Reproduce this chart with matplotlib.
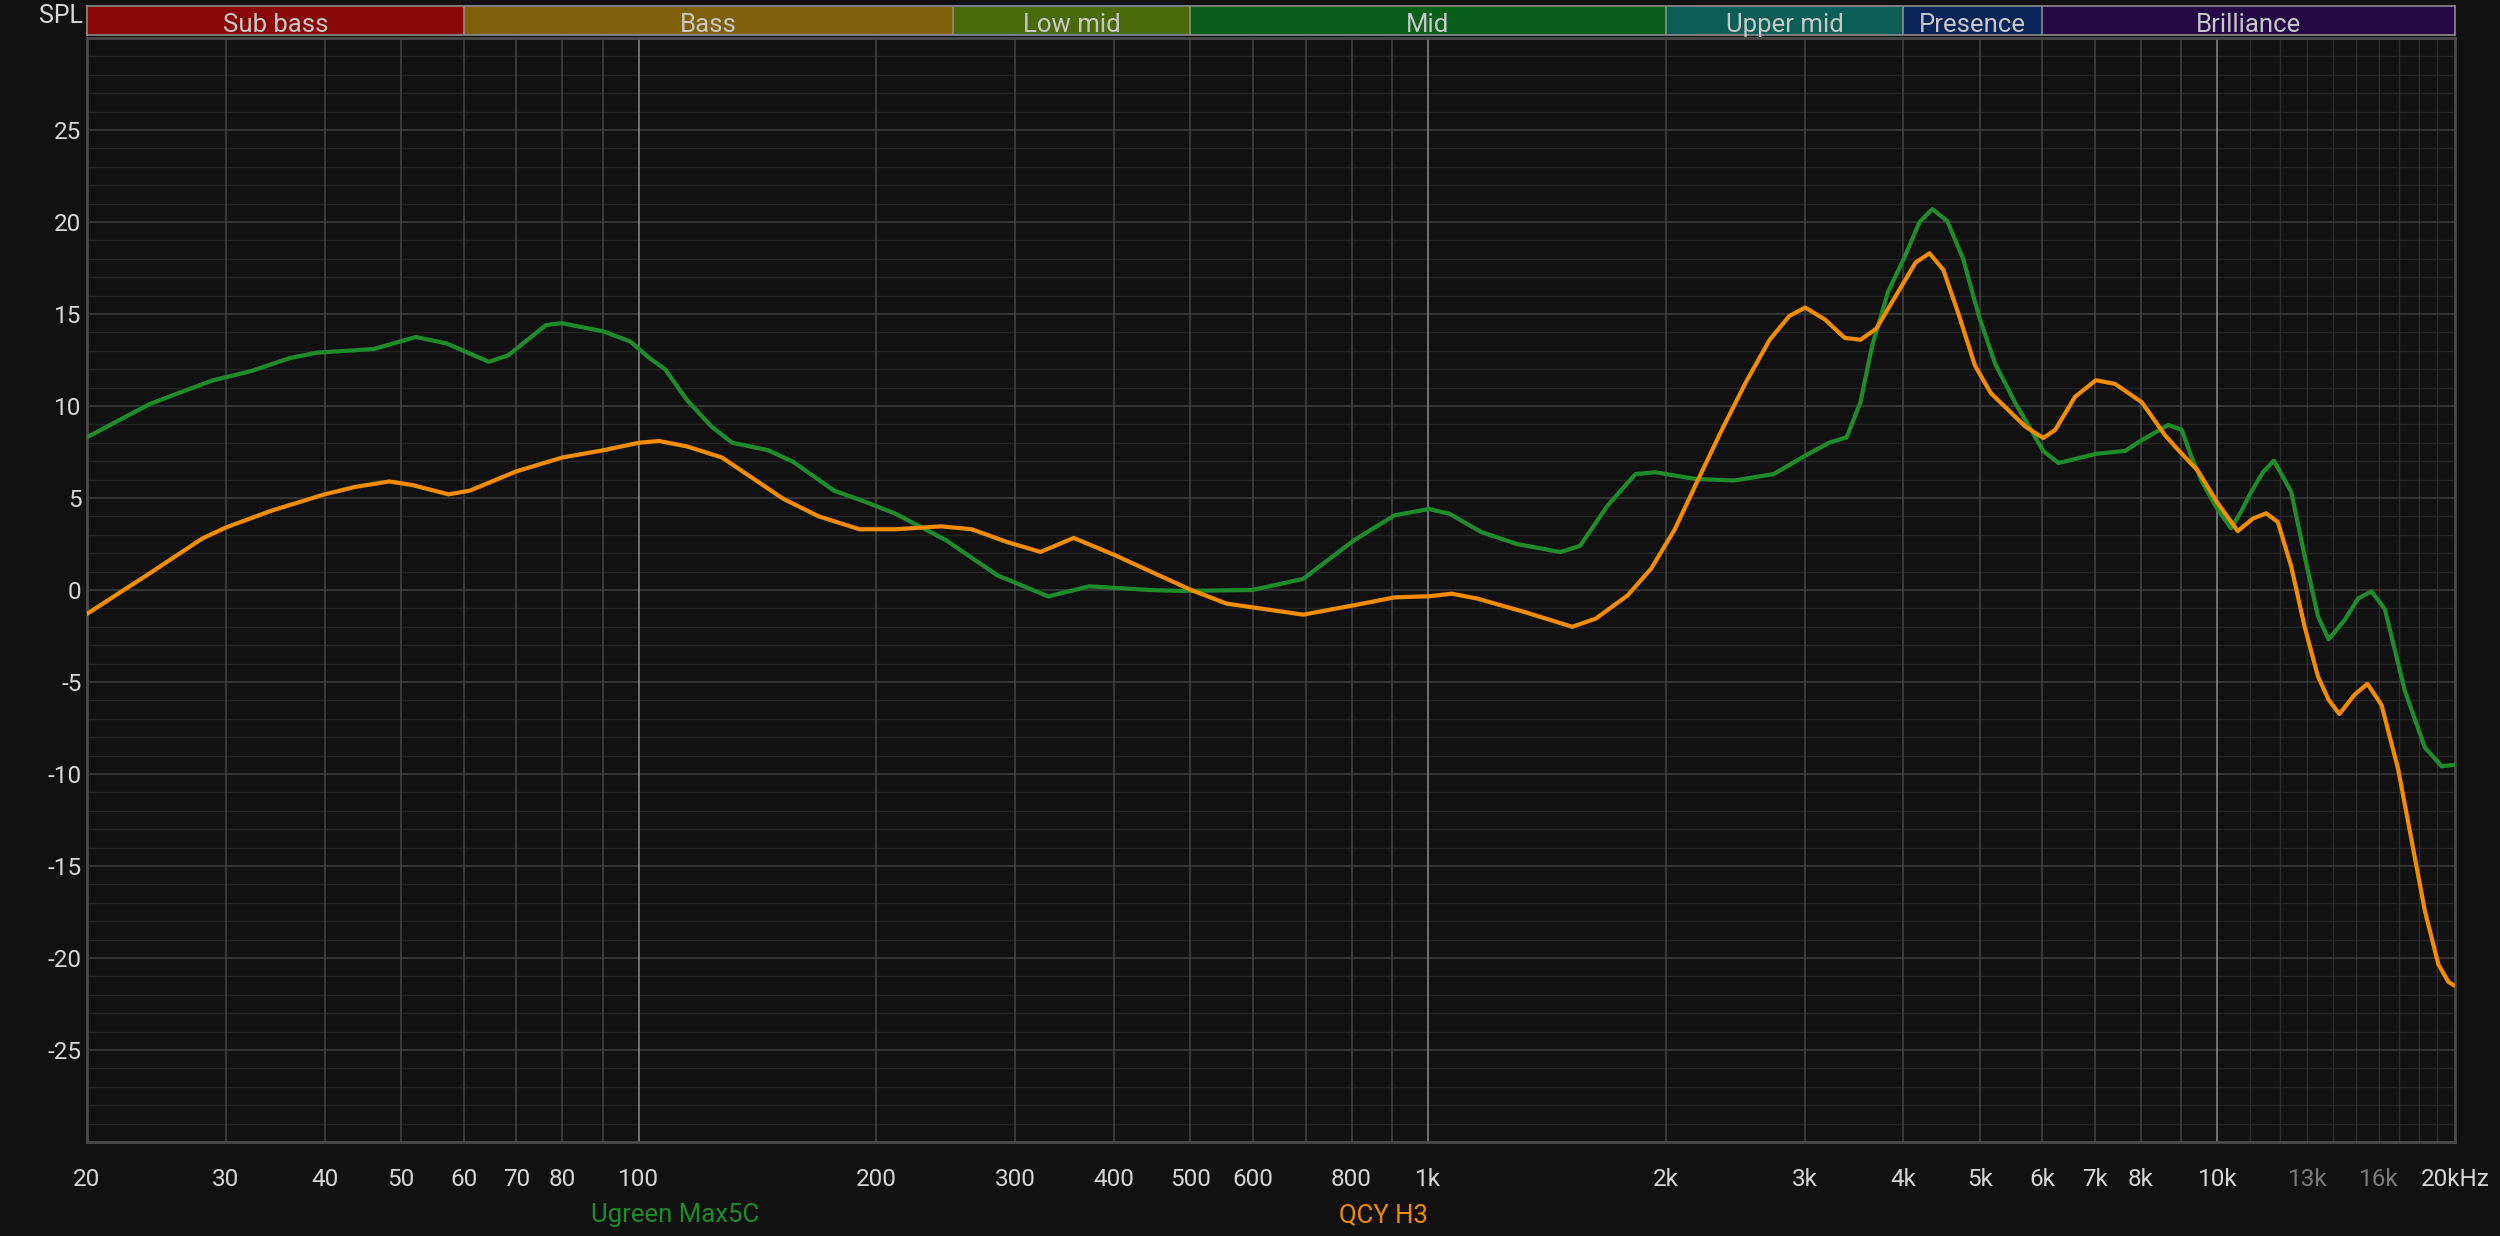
import matplotlib
matplotlib.use("Agg")
import matplotlib.pyplot as plt
from matplotlib.ticker import NullLocator

# ---------------- data ----------------
green_freq = [20, 21.9, 24.0, 26.1, 28.9, 32.3, 36.1, 39.1, 42.7, 46.2, 52.2, 57.1, 64.6, 68.3,
              76.3, 79.9, 90.3, 97.6, 103.2, 108.0, 115.2, 123.8, 131.4, 145.8, 157.0, 176.8,
              193.4, 211.4, 245.2, 284.6, 330.2, 372.0, 444.6, 486.3, 598.8, 694.4, 805.6,
              906.9, 1003, 1065, 1168, 1296, 1471, 1558, 1689, 1831, 1940, 2176, 2442, 2740,
              3005, 3220, 3391, 3530, 3654, 3826, 4006, 4195, 4353, 4548, 4763, 4987, 5229,
              5541, 6016, 6291, 7014, 7642, 8023, 8670, 9015, 9259, 9555, 10000, 10408, 10720,
              11035, 11420, 11792, 12405, 12898, 13410, 13836, 14500, 15075, 15677, 16299,
              17278, 18320, 19240, 19967]
green_db = [8.3, 9.2, 10.1, 10.7, 11.4, 11.9, 12.6, 12.9, 13.0, 13.1, 13.75, 13.4, 12.4, 12.75,
            14.4, 14.5, 14.05, 13.5, 12.6, 12.0, 10.3, 8.86, 8.0, 7.6, 6.96, 5.4,
            4.8, 4.15, 2.7, 0.8, -0.35, 0.2, 0.0, -0.05, 0.0, 0.6, 2.7,
            4.06, 4.4, 4.14, 3.15, 2.5, 2.06, 2.4, 4.6, 6.3, 6.4, 6.04, 5.95, 6.3,
            7.3, 8.0, 8.3, 10.2, 13.3, 16.2, 18.0, 20.0, 20.7, 20.05, 18.0, 14.9, 12.3,
            10.2, 7.56, 6.9, 7.4, 7.56, 8.15, 8.97, 8.7, 7.3, 5.9, 4.4, 3.36, 4.27,
            5.33, 6.4, 7.03, 5.33, 1.85, -1.43, -2.68, -1.62, -0.46, -0.08, -1.04,
            -5.48, -8.57, -9.58, -9.5]

orange_freq = [20, 21.9, 24.0, 28.0, 30, 34.2, 40, 43.7, 48.3, 51.7, 57.4, 61.1, 70, 80, 90.3,
               100, 106.1, 115.2, 127.5, 152.4, 169.1, 190.5, 211.4, 241.6, 264.2, 293.2,
               322.9, 355.7, 400.7, 501, 555.6, 694.4, 805.6, 906.9, 1003, 1072, 1155, 1326,
               1523, 1632, 1789, 1917, 2054, 2201, 2359, 2528, 2709, 2870, 3005, 3183, 3372,
               3530, 3697, 3915, 4147, 4318, 4496, 4708, 4930, 5163, 5705, 6016, 6230, 6602,
               7014, 7421, 8023, 8587, 8906, 9441, 10000, 10613, 11089, 11530, 11931, 12405,
               12898, 13410, 13836, 14274, 14928, 15494, 16142, 16943, 17620, 18320, 19053,
               19620, 19967]
orange_db = [-1.3, -0.2, 0.9, 2.8, 3.4, 4.3, 5.2, 5.6, 5.9, 5.7, 5.2, 5.4, 6.45, 7.2, 7.6,
             8.0, 8.1, 7.8, 7.2, 4.96, 4.0, 3.3, 3.3, 3.46, 3.3, 2.6,
             2.07, 2.83, 1.9, 0.0, -0.74, -1.34, -0.83, -0.4, -0.34, -0.2, -0.47, -1.2,
             -2.0, -1.55, -0.3, 1.16, 3.3, 6.04, 8.75, 11.3, 13.6, 14.9, 15.35, 14.7, 13.7,
             13.6, 14.2, 16.0, 17.8, 18.3, 17.4, 14.9, 12.2, 10.7, 8.9, 8.26, 8.7, 10.5,
             11.4, 11.2, 10.2, 8.4, 7.64, 6.5, 4.75, 3.2, 3.88, 4.17, 3.69, 1.27,
             -2.0, -4.7, -5.97, -6.74, -5.68, -5.1, -6.25, -9.73, -13.6, -17.45, -20.35,
             -21.3, -21.5]

series_names = ["Ugreen Max5C", "QCY H3"]
series_colors = ["#1f8c2b", "#f28c00"]

band_names = ["Sub bass", "Bass", "Low mid", "Mid", "Upper mid", "Presence", "Brilliance"]
band_edges = [20, 60, 250, 500, 2000, 4000, 6000, 20000]
band_colors = ["#880808", "#7f600a", "#4a690b", "#0a5f1a", "#0a5e55", "#0a2457", "#240a45"]

x_ticks = [20, 30, 40, 50, 60, 70, 80, 100, 200, 300, 400, 500, 600, 800, 1000, 2000, 3000,
           4000, 5000, 6000, 7000, 8000, 10000, 13000, 16000, 20000]
x_labels = ["20", "30", "40", "50", "60", "70", "80", "100", "200", "300", "400", "500", "600",
            "800", "1k", "2k", "3k", "4k", "5k", "6k", "7k", "8k", "10k", "13k", "16k", "20kHz"]
dim_labels = ["13k", "16k"]
y_ticks = [-25, -20, -15, -10, -5, 0, 5, 10, 15, 20, 25]

# ---------------- style ----------------
BG = "#111111"
TXT = "#d6d6d6"
FONT = ["Roboto", "DejaVu Sans"]
plt.rcParams["font.family"] = FONT

W, H = 2500, 1236
fig = plt.figure(figsize=(25, 12.36), dpi=100, facecolor=BG)

left, right, top, bottom = 87, 2455, 38, 1142
ax = fig.add_axes([left / W, 1 - bottom / H, (right - left) / W, (bottom - top) / H])
ax.set_facecolor(BG)
ax.set_xscale("log")
ax.set_xlim(20, 20000)
ax.set_ylim(-30, 30)

# horizontal grid
for v in range(-29, 30):
    if v % 5 == 0:
        ax.axhline(v, color="#3e3e3e", lw=1.1, zorder=1)
    else:
        ax.axhline(v, color="#242424", lw=1.0, zorder=0.5)

# vertical grid
decade_steps = [(20, 100, 10), (100, 1000, 100), (1000, 10000, 1000)]
for lo, hi, st in decade_steps:
    f = lo + st
    while f < hi:
        ax.axvline(f, color="#444444", lw=1.1, zorder=1)
        f += st
for f in [100, 1000, 10000]:
    ax.axvline(f, color="#8a8a8a", lw=1.1, zorder=1.2)
for f in range(11000, 20000, 1000):
    ax.axvline(f, color="#2c2c2c", lw=1.0, zorder=0.8)

# curves
ax.plot(green_freq, green_db, color=series_colors[0], lw=3.0, zorder=3,
        solid_joinstyle="round", solid_capstyle="round")
ax.plot(orange_freq, orange_db, color=series_colors[1], lw=3.0, zorder=4,
        solid_joinstyle="round", solid_capstyle="round")

for s in ax.spines.values():
    s.set_color("#4a4a4a")
    s.set_linewidth(2.0)

ax.xaxis.set_minor_locator(NullLocator())
ax.set_xticks(x_ticks)
ax.set_xticklabels(x_labels)
ax.set_yticks(y_ticks)
ax.set_yticklabels([str(v) for v in y_ticks])
ax.tick_params(axis="both", length=0, colors=TXT, labelsize=17.5)
ax.tick_params(axis="x", pad=19)
ax.tick_params(axis="y", pad=4)
for lab in ax.get_xticklabels():
    if lab.get_text() in dim_labels:
        lab.set_color("#7a7a7a")

# frequency band strip
bax = fig.add_axes([left / W, 1 - 35 / H, (right - left) / W, 29 / H])
bax.set_xscale("log")
bax.set_xlim(20, 20000)
bax.set_ylim(0, 1)
bax.set_facecolor(BG)
for i, name in enumerate(band_names):
    lo, hi = band_edges[i], band_edges[i + 1]
    bax.axvspan(lo, hi, color=band_colors[i], lw=0)
    if i > 0:
        bax.axvline(lo, color="#8c8c8c", lw=1.2)
    xc = (lo * hi) ** 0.5
    bax.text(xc, 0.33, name, ha="center", va="center", color="#c8c8c8", fontsize=18.5)
bax.set_xticks([])
bax.set_yticks([])
bax.xaxis.set_minor_locator(NullLocator())
for s in bax.spines.values():
    s.set_color("#8c8c8c")
    s.set_linewidth(1.2)

fig.text(83 / W, 1 - 16 / H, "SPL", ha="right", va="center", color=TXT, fontsize=18)

# legend labels
fig.text(675 / W, 1 - 1215 / H, series_names[0], ha="center", va="center",
         color=series_colors[0], fontsize=18.5)
fig.text(1383 / W, 1 - 1215 / H, series_names[1], ha="center", va="center",
         color=series_colors[1], fontsize=18.5)

fig.savefig("out.png", dpi=100, facecolor=BG)
